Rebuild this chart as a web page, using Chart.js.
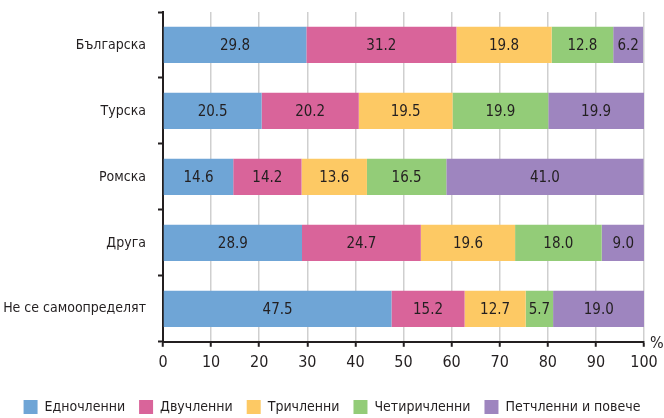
<!doctype html>
<html>
    <head>
        <meta charset="utf-8">
        <title>Домакинства по етническа група</title>
        <script src="https://cdn.jsdelivr.net/npm/chart.js@4.4.1/dist/chart.umd.min.js"></script>
        <style>
            body { margin: 0; background: #fff; }
            #box { width: 664px; height: 418px; }
        </style>
    </head>
    <body>
        <div id="box"><canvas id="hhChart"></canvas></div>
        <script>
            var groups = ['Българска', 'Турска', 'Ромска', 'Друга', 'Не се самоопределят'];
            var seriesNames = ['Едночленни', 'Двучленни', 'Тричленни', 'Четиричленни', 'Петчленни и повече'];
            var one   = [29.8, 20.5, 14.6, 28.9, 47.5];
            var two   = [31.2, 20.2, 14.2, 24.7, 15.2];
            var three = [19.8, 19.5, 13.6, 19.6, 12.7];
            var four  = [12.8, 19.9, 16.5, 18.0, 5.7];
            var five  = [6.2, 19.9, 41.0, 9.0, 19.0];
            var xTicks = [0, 10, 20, 30, 40, 50, 60, 70, 80, 90, 100];

            var colors = ['#6fa5d6', '#d9649a', '#fdc964', '#93cc78', '#9e85bf'];
            var fontName = '"Liberation Sans Narrow", "DejaVu Sans Condensed", sans-serif';
            Chart.defaults.font.family = fontName;
            Chart.defaults.color = '#231f20';

            var values = [one, two, three, four, five];
            var datasets = values.map(function (v, i) {
                return {
                    label: seriesNames[i],
                    data: v,
                    backgroundColor: colors[i],
                    borderWidth: 0,
                    categoryPercentage: 0.55,
                    barPercentage: 1.0
                };
            });

            // numbers inside each bar segment + the "%" sign at the end of the axis
            var barText = {
                id: 'barText',
                afterDatasetsDraw: function (chart) {
                    var ctx = chart.ctx;
                    ctx.save();
                    ctx.font = '15px ' + fontName;
                    ctx.fillStyle = '#231f20';
                    ctx.textAlign = 'center';
                    ctx.textBaseline = 'middle';
                    chart.data.datasets.forEach(function (ds, i) {
                        chart.getDatasetMeta(i).data.forEach(function (bar, j) {
                            var mid = (bar.x + bar.base) / 2;
                            ctx.fillText(ds.data[j].toFixed(1), mid, bar.y + 1);
                        });
                    });
                    var xs = chart.scales.x;
                    ctx.font = '16px ' + fontName;
                    ctx.textAlign = 'left';
                    ctx.fillText('%', xs.right + 6, xs.top + 2);
                    ctx.restore();
                }
            };

            var ctx = document.getElementById('hhChart').getContext('2d');
            var chart = new Chart(ctx, {
                type: 'bar',
                data: { labels: groups, datasets: datasets },
                plugins: [barText],
                options: {
                    indexAxis: 'y',
                    responsive: true,
                    maintainAspectRatio: false,
                    animation: false,
                    layout: { padding: { top: 12, right: 0, left: 0, bottom: -6 } },
                    scales: {
                        x: {
                            stacked: true,
                            min: 0,
                            max: 100,
                            afterBuildTicks: function (s) {
                                s.ticks = xTicks.map(function (v) { return { value: v }; });
                            },
                            // extra gap between the tick labels and the legend
                            afterFit: function (s) { s.height = s.height + 8; },
                            grid: {
                                color: '#cfcfcf',
                                lineWidth: 1.5,
                                tickColor: '#231f20',
                                tickLength: 5,
                                tickWidth: 2
                            },
                            border: { color: '#231f20', width: 2 },
                            ticks: { font: { size: 16 }, padding: 6, maxRotation: 0 }
                        },
                        y: {
                            stacked: true,
                            afterFit: function (s) {
                                s.width = 163;
                                s.paddingTop = 0;
                                s.paddingBottom = 0;
                            },
                            grid: {
                                drawOnChartArea: false,
                                tickColor: '#231f20',
                                tickLength: 5,
                                tickWidth: 2
                            },
                            border: { color: '#231f20', width: 2 },
                            ticks: { font: { size: 14 }, padding: 12 }
                        },
                        // empty strip on the right, leaves room for the "%" sign
                        yRight: {
                            position: 'right',
                            afterFit: function (s) {
                                s.width = 20;
                                s.paddingTop = 0;
                                s.paddingBottom = 0;
                            },
                            grid: { display: false },
                            border: { display: false },
                            ticks: { display: false }
                        }
                    },
                    plugins: {
                        legend: {
                            position: 'bottom',
                            labels: {
                                boxWidth: 14,
                                boxHeight: 14,
                                padding: 14,
                                font: { size: 14 }
                            }
                        },
                        tooltip: { enabled: false }
                    }
                }
            });
        </script>
    </body>
</html>
